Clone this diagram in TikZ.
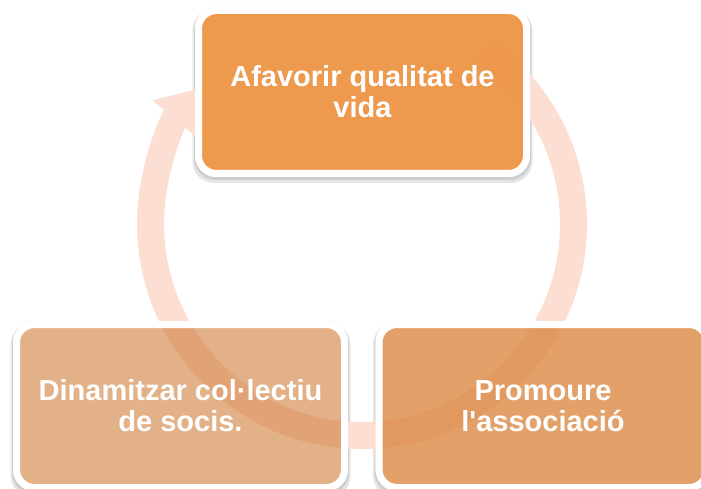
\documentclass[tikz,border=0pt]{standalone}
\usepackage{fontspec}
\setmainfont{Liberation Sans}
\usetikzlibrary{arrows.meta}
\usetikzlibrary{backgrounds}
\definecolor{ringpeach}{RGB}{252,222,211}
\definecolor{topfill}{RGB}{236,146,66}
\definecolor{rightfill}{RGB}{220,136,66}
\definecolor{leftfill}{RGB}{207,125,57}
\tikzstyle{every node}+=[inner sep=0pt]
\tikzstyle{block} = [rectangle, draw=white, line width=7pt, rounded corners=18pt, minimum width=328pt, minimum height=163pt, text=white, text opacity=1, align=center, font=\fontsize{29}{31}\selectfont\bfseries]
\tikzstyle{ring} = [draw=ringpeach, line width=27pt, -{Triangle[length=40pt, width=54pt]}]
\tikzstyle{boxshadow} = [fill=black, fill opacity=0.1, even odd rule, rounded corners=21.5pt]

\begin{document}
\begin{tikzpicture}[x=1pt, y=-1pt]
            \useasboundingbox (0,0) rectangle (701,489);
            % Ring arrow
            \coordinate (c) at (362,224);
            \path [ring] (c) ++(-55:211.5) arc [start angle=-55, end angle=220, radius=211.5];
            % Place nodes
            \node [block, fill=topfill, fill opacity=0.93] (favor) at (362.5,92) {Afavorir qualitat de\\vida};
            \node [block, fill=leftfill, fill opacity=0.6] (dinam) at (180.5,406) {Dinamitzar col·lectiu\\de socis.};
            \node [block, fill=rightfill, fill opacity=0.8] (promo) at (543,406) {Promoure\\l\textquotesingle associació};
            % Shadows
            \begin{pgfonlayer}{background}
              \foreach \n in {favor, dinam, promo} {
                \path [boxshadow] ([shift={(-2.5,2)}]\n.north west) rectangle ([shift={(2.5,6)}]\n.south east)
                  (\n.north west) rectangle (\n.south east);
                \path [boxshadow] ([shift={(-1,2)}]\n.north west) rectangle ([shift={(1,3)}]\n.south east)
                  (\n.north west) rectangle (\n.south east);
              }
            \end{pgfonlayer}
          \end{tikzpicture}
\end{document}
